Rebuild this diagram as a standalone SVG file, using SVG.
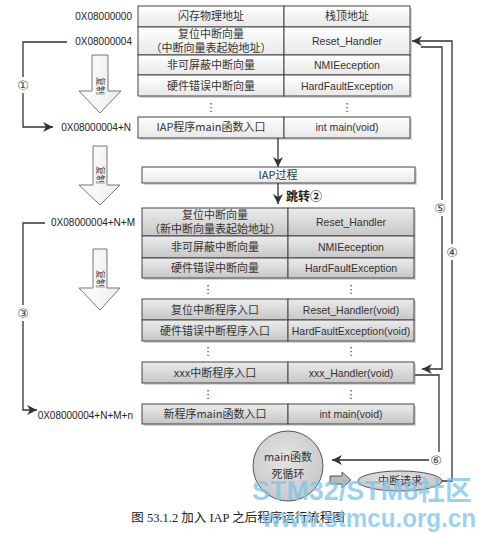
<svg xmlns="http://www.w3.org/2000/svg" width="482" height="533" viewBox="0 0 482 533">
<defs>
<linearGradient id="gW" x1="0" y1="0" x2="0" y2="1"><stop offset="0" stop-color="#ffffff"/><stop offset="1" stop-color="#e8e8e8"/></linearGradient>
<linearGradient id="gG" x1="0" y1="0" x2="0" y2="1"><stop offset="0" stop-color="#ececec"/><stop offset="1" stop-color="#c6c6c6"/></linearGradient>
<radialGradient id="gC" cx="0.45" cy="0.4" r="0.7"><stop offset="0" stop-color="#e4e4e4"/><stop offset="1" stop-color="#c4c4c4"/></radialGradient>
<linearGradient id="gA" x1="0" y1="0" x2="1" y2="0"><stop offset="0" stop-color="#ffffff"/><stop offset="1" stop-color="#ececec"/></linearGradient>
<marker id="ah" markerUnits="userSpaceOnUse" markerWidth="11" markerHeight="10" refX="10" refY="5" orient="auto"><path d="M0,0 L10,5 L0,10 L3,5 z" fill="#333"/></marker>
</defs>
<style>
.cell{stroke:#444;stroke-width:1;}
.w{fill:url(#gW);}
.g{fill:url(#gG);}
.sh{fill:#d6d6d6;}
.t{font-family:"Noto Sans CJK SC","Liberation Sans",sans-serif;font-size:11px;fill:#333;text-anchor:middle;}
.e{font-family:"Liberation Sans","Noto Sans CJK SC",sans-serif;font-size:10.5px;fill:#333;text-anchor:middle;}
.ad{font-family:"Liberation Sans",sans-serif;font-size:10px;fill:#222;text-anchor:end;}
.dot{font-family:"DejaVu Sans",sans-serif;font-size:11px;fill:#333;text-anchor:middle;}
.num{font-family:"DejaVu Sans",sans-serif;font-size:13px;fill:#444;text-anchor:middle;}
.ln{fill:none;stroke:#333;stroke-width:1.3;}
.big{fill:url(#gA);stroke:#777;stroke-width:1;}
.cp{font-family:"Noto Sans CJK SC",sans-serif;font-size:9px;fill:#444;text-anchor:middle;}
.wm{font-family:"Liberation Sans","Noto Sans CJK SC",sans-serif;font-weight:bold;fill:#7cc4ec;fill-opacity:0.75;}
</style>
<rect width="482" height="533" fill="#ffffff"/>

<!-- address labels -->
<g id="addresses">
<text class="ad" x="132" y="20">0X08000000</text>
<text class="ad" x="132" y="45">0X08000004</text>
<text class="ad" x="131" y="131">0X08000004+N</text>
<text class="ad" x="135" y="226">0X08000004+N+M</text>
<text class="ad" x="133" y="419">0X08000004+N+M+n</text>
</g>

<!-- old vector table -->
<g id="old-table">
<rect class="sh" x="140" y="8" width="272" height="90"/>
<rect class="cell w" x="138" y="6" width="146" height="21"/><rect class="cell w" x="284" y="6" width="126" height="21"/>
<rect class="cell w" x="138" y="27" width="146" height="28"/><rect class="cell w" x="284" y="27" width="126" height="28"/>
<rect class="cell w" x="138" y="55" width="146" height="20"/><rect class="cell w" x="284" y="55" width="126" height="20"/>
<rect class="cell w" x="138" y="75" width="146" height="21"/><rect class="cell w" x="284" y="75" width="126" height="21"/>
<text class="t" x="211" y="20">闪存物理地址</text><text class="t" x="347" y="20">栈顶地址</text>
<text class="t" x="211" y="38">复位中断向量</text><text class="t" x="211" y="52" font-size="10.5">（中断向量表起始地址）</text><text class="e" x="347" y="45">Reset_Handler</text>
<text class="t" x="211" y="69">非可屏蔽中断向量</text><text class="e" x="347" y="69">NMIEeception</text>
<text class="t" x="211" y="90">硬件错误中断向量</text><text class="e" x="347" y="90">HardFaultException</text>
<text class="dot" x="211" y="111">⋮</text><text class="dot" x="347" y="111">⋮</text>
</g>
<g id="iap-main">
<rect class="sh" x="140" y="119" width="272" height="21"/>
<rect class="cell w" x="138" y="117" width="146" height="21"/><rect class="cell w" x="284" y="117" width="126" height="21"/>
<text class="t" x="211" y="131">IAP程序main函数入口</text><text class="e" x="347" y="131">int main(void)</text>
</g>
<g id="iap-process">
<rect class="sh" x="144" y="169" width="273" height="16"/>
<rect class="cell w" x="142" y="167" width="273" height="16"/>
<text class="t" x="278" y="179" font-size="10">IAP过程</text>
</g>

<!-- new vector table -->
<g id="new-table">
<rect class="sh" x="144" y="210" width="272" height="70"/>
<rect class="cell g" x="142" y="208" width="146" height="28"/><rect class="cell g" x="288" y="208" width="126" height="28"/>
<rect class="cell g" x="142" y="236" width="146" height="22"/><rect class="cell g" x="288" y="236" width="126" height="22"/>
<rect class="cell g" x="142" y="258" width="146" height="20"/><rect class="cell g" x="288" y="258" width="126" height="20"/>
<text class="t" x="215" y="219">复位中断向量</text><text class="t" x="215" y="233" font-size="10.5">（新中断向量表起始地址）</text><text class="e" x="351" y="226">Reset_Handler</text>
<text class="t" x="215" y="251">非可屏蔽中断向量</text><text class="e" x="351" y="251">NMIEeception</text>
<text class="t" x="215" y="272">硬件错误中断向量</text><text class="e" x="351" y="272">HardFaultException</text>
<text class="dot" x="208" y="293">⋮</text><text class="dot" x="351" y="293">⋮</text>
</g>
<g id="new-handlers">
<rect class="sh" x="144" y="301" width="272" height="42"/>
<rect class="cell g" x="142" y="299" width="146" height="21"/><rect class="cell g" x="288" y="299" width="126" height="21"/>
<rect class="cell g" x="142" y="320" width="146" height="21"/><rect class="cell g" x="288" y="320" width="126" height="21"/>
<text class="t" x="215" y="314">复位中断程序入口</text><text class="e" x="351" y="314">Reset_Handler(void)</text>
<text class="t" x="215" y="335">硬件错误中断程序入口</text><text class="e" x="351" y="335">HardFaultException(void)</text>
<text class="dot" x="208" y="355">⋮</text><text class="dot" x="351" y="355">⋮</text>
</g>
<g id="xxx-handler">
<rect class="sh" x="144" y="364" width="272" height="21"/>
<rect class="cell g" x="142" y="362" width="146" height="21"/><rect class="cell g" x="288" y="362" width="126" height="21"/>
<text class="t" x="215" y="377">xxx中断程序入口</text><text class="e" x="351" y="377">xxx_Handler(void)</text>
<text class="dot" x="208" y="398">⋮</text><text class="dot" x="351" y="398">⋮</text>
</g>
<g id="new-main">
<rect class="sh" x="144" y="406" width="272" height="20"/>
<rect class="cell g" x="142" y="404" width="146" height="20"/><rect class="cell g" x="288" y="404" width="126" height="20"/>
<text class="t" x="215" y="418">新程序main函数入口</text><text class="e" x="351" y="418">int main(void)</text>
</g>

<!-- loop and interrupt request -->
<g id="main-loop">
<circle cx="288" cy="466" r="35" fill="url(#gC)" stroke="#555" stroke-width="1"/>
<text class="t" x="288" y="461" font-size="11.5">main函数</text>
<text class="t" x="288" y="478" font-size="11.5">死循环</text>
</g>
<g id="irq">
<ellipse cx="400" cy="481" rx="42" ry="10" fill="url(#gC)" stroke="#555" stroke-width="1"/>
<text class="t" x="400" y="485" font-size="10.5">中断请求</text>
</g>
<g id="loop-arrow">
<path d="M330,476 L342,476 L342,472 L351,480 L342,488 L342,484 L330,484 z" fill="#bbb" stroke="#555" stroke-width="1"/>
</g>

<!-- copy arrows -->
<g id="copy-arrows">
<path class="big" d="M92,55 L108,55 L108,91 L121,91 L100,113 L79,91 L92,91 z"/>
<text class="cp" transform="rotate(90 100 86)" x="100" y="89">复制</text>
<path class="big" d="M93,146 L107,146 L107,185 L120,185 L100,205 L79,185 L93,185 z"/>
<text class="cp" transform="rotate(90 100 175)" x="100" y="178">复制</text>
<path class="big" d="M93,249 L107,249 L107,288 L120,288 L100,310 L79,288 L93,288 z"/>
<text class="cp" transform="rotate(90 100 279)" x="100" y="282">复制</text>
</g>

<!-- connectors -->
<g id="connectors">
<path class="ln" d="M67,42 L23,42 L23,127 L53,127" marker-end="url(#ah)"/>
<path class="ln" d="M45,223 L23,223 L23,410 L37,410" marker-end="url(#ah)"/>
<path class="ln" d="M278,138 L278,167" marker-end="url(#ah)"/>
<path class="ln" d="M278,183 L278,204" marker-end="url(#ah)"/>
<path class="ln" d="M442,481 L452,481 L452,41 L412,41" marker-end="url(#ah)"/>
<path class="ln" d="M421,47 L442,47 L442,369 L422,369" marker-end="url(#ah)"/>
<path class="ln" d="M415,375 L439,375 L439,460 L332,460" marker-end="url(#ah)"/>
<rect x="16" y="77" width="14" height="16" fill="#fff"/><text class="num" x="23" y="90">①</text>
<rect x="16" y="305" width="14" height="16" fill="#fff"/><text class="num" x="23" y="318">③</text>
<rect x="433" y="200" width="14" height="16" fill="#fff"/><text class="num" x="440" y="213">⑤</text>
<rect x="445" y="244" width="14" height="16" fill="#fff"/><text class="num" x="452" y="257">④</text>
<rect x="429" y="452" width="14" height="16" fill="#fff"/><text class="num" x="436" y="465">⑥</text>
<text x="286" y="201" font-family="Noto Sans CJK SC,sans-serif" font-size="12" font-weight="bold" fill="#222">跳转②</text>
</g>

<!-- caption -->
<text x="238" y="522" font-family="Liberation Serif,Noto Sans CJK SC,serif" font-size="12.5" fill="#222" text-anchor="middle">图 53.1.2  加入 IAP 之后程序运行流程图</text>

<!-- watermark -->
<text class="wm" x="252" y="500" font-size="27" textLength="220" lengthAdjust="spacingAndGlyphs">STM32/STM8社区</text>
<text class="wm" x="262" y="527" font-size="26" textLength="214" lengthAdjust="spacingAndGlyphs">www.stmcu.org.cn</text>
</svg>
